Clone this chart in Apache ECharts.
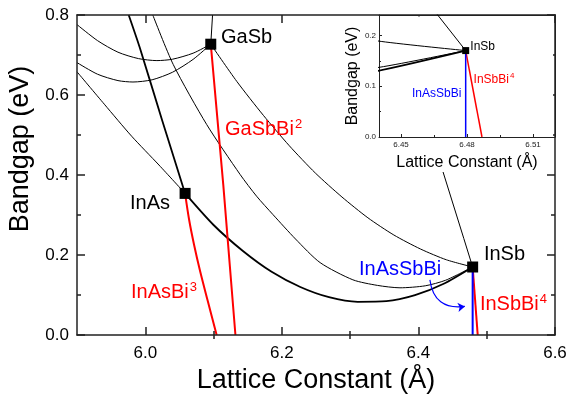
<!DOCTYPE html>
<html><head><meta charset="utf-8">
<script src="https://cdn.jsdelivr.net/npm/echarts@6/dist/echarts.min.js"></script>
<style>html,body{margin:0;padding:0;background:#fff}#c{width:568px;height:394px}</style>
</head><body><div id="c"></div>
<script>
// ---------- data (lattice constant Å, bandgap eV) ----------
const binaryNames = ['GaSb', 'InAs', 'InSb'];
const binaryPoints = [[6.0959, 0.727], [6.0583, 0.354], [6.4794, 0.17]];

const curveGaSbUp = [[6.0959, 0.727], [6.0985, 0.8]];
const curveArcUpper = [[5.9, 0.776], [5.93, 0.736], [5.96, 0.707], [5.99, 0.691], [6.017, 0.686], [6.04, 0.6895], [6.07, 0.7045], [6.0959, 0.727]];
const curveArcLower = [[5.9, 0.681], [5.93, 0.652], [5.96, 0.636], [5.982, 0.6325], [6.01, 0.638], [6.04, 0.657], [6.07, 0.689], [6.0959, 0.727]];
const curveLeftToInAs = [[5.9, 0.658], [5.94, 0.577], [5.98, 0.497], [6.02, 0.425], [6.0583, 0.354]];
const curveTopToInAs = [[5.9757, 0.8], [5.992, 0.718], [6.025, 0.535], [6.0583, 0.354]];
const curveTopToInSb = [[6.011, 0.8], [6.041, 0.676], [6.09, 0.526], [6.139, 0.401], [6.163, 0.347], [6.187, 0.301], [6.22, 0.24], [6.256, 0.181], [6.304, 0.138], [6.34, 0.124], [6.373, 0.118], [6.41, 0.123], [6.44, 0.137], [6.4794, 0.17]];
const curveGaInSb = [[6.0959, 0.727], [6.134, 0.634], [6.173, 0.549], [6.211, 0.473], [6.249, 0.405], [6.288, 0.345], [6.326, 0.293], [6.364, 0.25], [6.403, 0.215], [6.441, 0.188], [6.4794, 0.17]];
const curveInAsSb = [[6.0583, 0.354], [6.1, 0.275], [6.143, 0.21], [6.185, 0.158], [6.227, 0.12], [6.269, 0.0945], [6.311, 0.083], [6.353, 0.0845], [6.395, 0.0996], [6.437, 0.128], [6.4794, 0.17]];
const curveSteepToInSb = [[6.40, 0.605], [6.4664, 0.2415], [6.4794, 0.17]];

const curveGaSbBi = [[6.0959, 0.727], [6.1142, 0.376], [6.132, 0]];
const curveInAsBi = [[6.0583, 0.354], [6.064, 0.29], [6.0715, 0.225], [6.0805, 0.158], [6.0915, 0.085], [6.1045, 0]];
const curveInSbBi = [[6.4794, 0.17], [6.4868, 0]];
const curveInAsSbBi = [[6.4794, 0.17], [6.4794, 0]];
const arrowPath = [[6.4168, 0.138], [6.468, 0.0715]];

const xMajorTicks = [6.0, 6.2, 6.4, 6.6];
const xMinorTicks = [6.1, 6.3, 6.5];
const insetXTicks = [6.45, 6.48, 6.51];
const insetXMinor = [6.465, 6.495];
const insetYTicks = [0, 0.1, 0.2];
const insetYMinor = [0.05, 0.15];

// ---------- chart ----------
const FONT = '"Liberation Sans", Arial, Helvetica, sans-serif';
const AX = '#222';
const chart = echarts.init(document.getElementById('c'), null, {renderer: 'canvas'});

const mainAnno = [
  {t: '{k|GaSb}', c: [6.1108, 0.7465]},
  {t: '{k|InAs}', c: [5.9776, 0.332]},
  {t: '{k|InSb}', c: [6.4959, 0.205]},
  {t: '{r|GaSbBi}{rs|2}', c: [6.1167, 0.5158]},
  {t: '{r|InAsBi}{rs|3}', c: [5.9791, 0.1083]},
  {t: '{b|InAsSbBi}', c: [6.3129, 0.1658]},
  {t: '{r|InSbBi}{rs|4}', c: [6.49, 0.0783]}
];
const insetAnno = [
  {t: '{k|InSb}', c: [6.4815, 0.179]},
  {t: '{r|InSbBi}{rs|4}', c: [6.483, 0.1147]},
  {t: '{b|InAsSbBi}', c: [6.455, 0.0863]}
];
function rich(size, sup) {
  const lh = Math.round(size * 1.1);
  return {
    k: {fontSize: size, color: '#000', fontFamily: FONT, lineHeight: lh, verticalAlign: 'bottom'},
    r: {fontSize: size, color: '#ff0000', fontFamily: FONT, lineHeight: lh, verticalAlign: 'bottom'},
    b: {fontSize: size, color: '#0000ff', fontFamily: FONT, lineHeight: lh, verticalAlign: 'bottom'},
    rs: {fontSize: sup, color: '#ff0000', fontFamily: FONT, lineHeight: Math.round(sup * 0.6), verticalAlign: 'top', padding: [0, 0, 0, 1]}
  };
}

function xAx(o) {
  return Object.assign({type: 'value', splitLine: {show: false}, axisLine: {show: false}, axisTick: {show: false}, axisLabel: {show: false}}, o);
}
const xAxes = [
  xAx({gridIndex: 0, position: 'bottom', min: 5.9, max: 6.6, z: 10,
    axisLine: {show: true, onZero: false, lineStyle: {color: AX, width: 1.5}},
    axisTick: {show: true, inside: true, length: 8, customValues: xMajorTicks, lineStyle: {color: AX, width: 1.5}},
    axisLabel: {show: true, customValues: xMajorTicks, fontSize: 17, color: '#000', fontFamily: FONT, margin: 10, formatter: v => v.toFixed(1)},
    name: 'Lattice Constant (Å)', nameLocation: 'middle', nameGap: 27,
    nameTextStyle: {fontSize: 27, color: '#000', fontFamily: FONT}}),
  xAx({gridIndex: 0, position: 'bottom', min: 5.9, max: 6.6, z: 10,
    axisTick: {show: true, inside: true, length: 4, customValues: xMinorTicks, lineStyle: {color: AX, width: 1.5}}}),
  xAx({gridIndex: 0, position: 'top', min: 5.9, max: 6.6, z: 10,
    axisLine: {show: true, onZero: false, lineStyle: {color: AX, width: 1.5}},
    axisTick: {show: true, inside: true, length: 8, customValues: xMajorTicks, lineStyle: {color: AX, width: 1.5}}}),
  xAx({gridIndex: 0, position: 'top', min: 5.9, max: 6.6, z: 10,
    axisTick: {show: true, inside: true, length: 4, customValues: xMinorTicks, lineStyle: {color: AX, width: 1.5}}}),
  xAx({gridIndex: 1, position: 'bottom', min: 6.44, max: 6.52, z: 11,
    axisLine: {show: true, onZero: false, lineStyle: {color: AX, width: 1}},
    axisTick: {show: true, inside: true, length: 3, customValues: insetXTicks, lineStyle: {color: AX, width: 1}},
    axisLabel: {show: true, customValues: insetXTicks, fontSize: 8, color: '#222', fontFamily: FONT, margin: 4, formatter: v => v.toFixed(2)},
    name: 'Lattice Constant (Å)', nameLocation: 'middle', nameGap: 18,
    nameTextStyle: {fontSize: 16, color: '#000', fontFamily: FONT}}),
  xAx({gridIndex: 1, position: 'bottom', min: 6.44, max: 6.52, z: 11,
    axisTick: {show: true, inside: true, length: 2, customValues: insetXMinor, lineStyle: {color: AX, width: 1}}}),
  xAx({gridIndex: 1, position: 'top', min: 6.44, max: 6.52, z: 11,
    axisLine: {show: true, onZero: false, lineStyle: {color: AX, width: 1}}})
];
const yAxes = [
  {type: 'value', gridIndex: 0, position: 'left', min: 0, max: 0.8, interval: 0.2, z: 10, splitLine: {show: false},
    axisLine: {show: true, onZero: false, lineStyle: {color: AX, width: 1.5}},
    axisTick: {show: true, inside: true, length: 8, lineStyle: {color: AX, width: 1.5}},
    minorTick: {show: true, splitNumber: 2, length: 4, lineStyle: {color: AX, width: 1.5}},
    axisLabel: {fontSize: 17, color: '#000', fontFamily: FONT, margin: 8, formatter: v => v.toFixed(1)},
    name: 'Bandgap (eV)', nameLocation: 'middle', nameGap: 37,
    nameTextStyle: {fontSize: 27, color: '#000', fontFamily: FONT, padding: [0, 0, 0, 52]}},
  {type: 'value', gridIndex: 0, position: 'right', min: 0, max: 0.8, interval: 0.2, z: 10, splitLine: {show: false},
    axisLine: {show: true, onZero: false, lineStyle: {color: AX, width: 1.5}},
    axisTick: {show: true, inside: true, length: 8, lineStyle: {color: AX, width: 1.5}},
    minorTick: {show: true, splitNumber: 2, length: 4, lineStyle: {color: AX, width: 1.5}},
    axisLabel: {show: false}},
  {type: 'value', gridIndex: 1, position: 'left', min: 0, max: 0.24, z: 11, splitLine: {show: false},
    axisLine: {show: true, onZero: false, lineStyle: {color: AX, width: 1}},
    axisTick: {show: true, inside: true, length: 3, customValues: insetYTicks, lineStyle: {color: AX, width: 1}},
    axisLabel: {show: true, customValues: insetYTicks, fontSize: 8, color: '#222', fontFamily: FONT, margin: 3, formatter: v => v.toFixed(1)},
    name: 'Bandgap (eV)', nameLocation: 'middle', nameGap: 14,
    nameTextStyle: {fontSize: 16, color: '#000', fontFamily: FONT}},
  {type: 'value', gridIndex: 1, position: 'left', min: 0, max: 0.24, z: 11, splitLine: {show: false},
    axisLine: {show: false}, axisLabel: {show: false},
    axisTick: {show: true, inside: true, length: 2, customValues: insetYMinor, lineStyle: {color: AX, width: 1}}},
  {type: 'value', gridIndex: 1, position: 'right', min: 0, max: 0.24, z: 11, splitLine: {show: false},
    axisLine: {show: true, onZero: false, lineStyle: {color: AX, width: 1}},
    axisTick: {show: false}, axisLabel: {show: false}}
];

function line(data, color, width, xi, yi, z, smooth) {
  return {type: 'line', data: data, xAxisIndex: xi, yAxisIndex: yi, z: z, showSymbol: false, symbol: 'none',
    smooth: smooth === undefined ? 0.25 : smooth, silent: true, clip: true,
    lineStyle: {color: color, width: width}};
}
function curveSet(xi, yi, z, bw, cw) {
  return [
    line(curveGaSbUp, '#000', bw, xi, yi, z, false),
    line(curveArcUpper, '#000', bw, xi, yi, z),
    line(curveArcLower, '#000', bw, xi, yi, z),
    line(curveLeftToInAs, '#000', bw, xi, yi, z),
    line(curveTopToInAs, '#000', bw * 1.8, xi, yi, z),
    line(curveTopToInSb, '#000', bw, xi, yi, z),
    line(curveGaInSb, '#000', bw, xi, yi, z),
    line(curveInAsSb, '#000', bw * 1.8, xi, yi, z),
    line(curveSteepToInSb, '#000', bw, xi, yi, z, false),
    line(curveGaSbBi, '#ff0000', cw, xi, yi, z + 1, false),
    line(curveInAsBi, '#ff0000', cw, xi, yi, z + 1, 0.3),
    line(curveInSbBi, '#ff0000', cw, xi, yi, z + 1, false),
    line(curveInAsSbBi, '#0000ff', cw, xi, yi, z + 1, false)
  ];
}
function annoSeries(list, xi, yi, z, size, sup) {
  return {type: 'scatter', xAxisIndex: xi, yAxisIndex: yi, z: z, symbolSize: 0, silent: true,
    itemStyle: {opacity: 1},
    data: list.map(a => ({value: a.c, label: {formatter: a.t}})),
    label: {show: true, position: 'right', distance: 0, rich: rich(size, sup)}};
}

const series = [].concat(
  curveSet(0, 0, 2, 1, 2),
  [{type: 'scatter', xAxisIndex: 0, yAxisIndex: 0, z: 4, symbol: 'rect', symbolSize: 11, silent: true,
    itemStyle: {color: '#000', opacity: 1}, data: binaryPoints.map((p, i) => ({value: p, name: binaryNames[i]}))}],
  [{type: 'lines', coordinateSystem: 'cartesian2d', xAxisIndex: 0, yAxisIndex: 0, z: 4, silent: true,
    symbol: ['none', 'arrow'], symbolSize: 7,
    lineStyle: {color: '#0000ff', width: 1.2, curveness: -0.5, opacity: 1},
    data: [{coords: arrowPath}]}],
  [annoSeries(mainAnno, 0, 0, 5, 20, 13)],
  curveSet(4, 2, 12, 1, 1.5),
  [{type: 'scatter', xAxisIndex: 4, yAxisIndex: 2, z: 14, symbol: 'rect', symbolSize: 7, silent: true,
    itemStyle: {color: '#000', opacity: 1}, data: [binaryPoints[2]]}],
  [annoSeries(insetAnno, 4, 2, 15, 12, 8)]
);

chart.setOption({
  animation: false,
  grid: [
    {left: 77, right: 13, top: 15, bottom: 59, containLabel: false, outerBoundsMode: 'none'},
    {left: 379, right: 13, top: 15, bottom: 257, containLabel: false, outerBoundsMode: 'none'}
  ],
  xAxis: xAxes,
  yAxis: yAxes,
  graphic: {elements: [{type: 'rect', z: 11, silent: true, shape: {x: 338, y: 16.5, width: 215, height: 155.5}, style: {fill: '#fff'}}]},
  series: series
});
</script></body></html>
